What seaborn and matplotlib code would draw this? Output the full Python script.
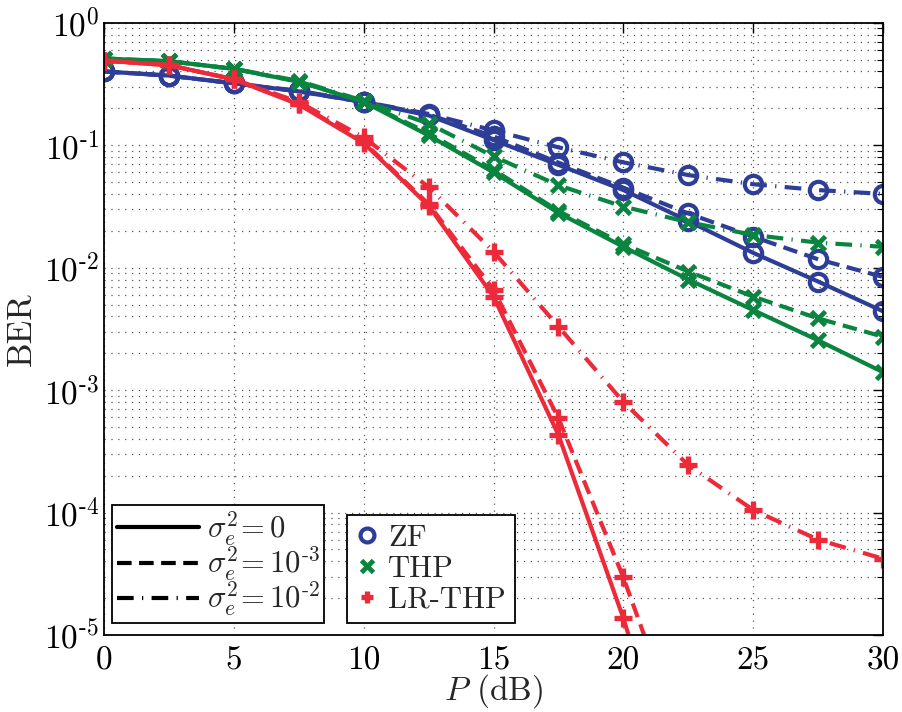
import numpy as np
import pandas as pd
import matplotlib
matplotlib.use("Agg")
import matplotlib.pyplot as plt
import seaborn as sns
from matplotlib.lines import Line2D
from matplotlib.ticker import FixedLocator, LogLocator, FuncFormatter, NullFormatter

# ---------------- data ----------------
P_dB = [0, 2.5, 5, 7.5, 10, 12.5, 15, 17.5, 20, 22.5, 25, 27.5, 30]

zf_s0 = [0.40, 0.37, 0.32, 0.275, 0.225, 0.175, 0.110, 0.069, 0.043, 0.0240, 0.0132, 0.0077, 0.0044]
zf_s3 = [0.40, 0.37, 0.32, 0.275, 0.225, 0.178, 0.118, 0.072, 0.045, 0.0277, 0.0179, 0.0117, 0.0084]
zf_s2 = [0.40, 0.37, 0.32, 0.278, 0.226, 0.180, 0.132, 0.096, 0.0724, 0.057, 0.048, 0.043, 0.040]

thp_s0 = [0.51, 0.485, 0.42, 0.33, 0.226, 0.120, 0.060, 0.028, 0.0148, 0.0080, 0.0045, 0.00255, 0.00140]
thp_s3 = [0.51, 0.485, 0.42, 0.33, 0.226, 0.125, 0.063, 0.029, 0.0156, 0.0093, 0.0058, 0.00385, 0.00273]
thp_s2 = [0.51, 0.485, 0.42, 0.335, 0.230, 0.150, 0.081, 0.047, 0.0315, 0.0235, 0.0185, 0.0160, 0.0148]

lr_s0 = [0.49, 0.45, 0.345, 0.215, 0.104, 0.032, 0.0058, 0.00043, 1.37e-5, 2.7e-7, np.nan, np.nan, np.nan]
lr_s3 = [0.49, 0.45, 0.345, 0.218, 0.106, 0.033, 0.0066, 0.00059, 2.95e-5, 1.0e-6, np.nan, np.nan, np.nan]
lr_s2 = [0.49, 0.45, 0.345, 0.225, 0.116, 0.0455, 0.0135, 0.0033, 8.0e-4, 2.44e-4, 1.05e-4, 6.0e-5, 4.2e-5]

schemes = ["ZF", "THP", "LR-THP"]
sigma_levels = ["0", "1e-3", "1e-2"]
series = {
    "ZF": [zf_s0, zf_s3, zf_s2],
    "THP": [thp_s0, thp_s3, thp_s2],
    "LR-THP": [lr_s0, lr_s3, lr_s2],
}
colors = {"ZF": "#2e3e97", "THP": "#0a8540", "LR-THP": "#ec2a3a"}
markers = {"ZF": "o", "THP": "x", "LR-THP": "+"}
legend_sigma = [r"$\sigma_e^2\!=0$", r"$\sigma_e^2\!=10^{\text{-}3}$", r"$\sigma_e^2\!=10^{\text{-}2}$"]
legend_scheme = ["ZF", "THP", "LR-THP"]

rows = []
for s in schemes:
    for lvl, vals in zip(sigma_levels, series[s]):
        for p, v in zip(P_dB, vals):
            rows.append({"scheme": s, "sigma": lvl, "P": p, "BER": v})
df = pd.DataFrame(rows).dropna()

# ---------------- style ----------------
sns.set_theme(style="white")
plt.rcParams.update({
    "font.family": "cmr10",
    "mathtext.fontset": "cm",
    "axes.formatter.use_mathtext": True,
    "axes.unicode_minus": False,
    "axes.edgecolor": "black",
    "axes.linewidth": 1.3,
})

fig, ax = plt.subplots(figsize=(9.03, 7.12), dpi=100)
fig.subplots_adjust(left=0.1152, right=0.9779, bottom=0.1081, top=0.9681)

dash_map = {"0": "", "1e-3": (3.5, 1.8), "1e-2": (4.0, 2.0, 0.3, 2.0)}
msize = {"ZF": 12.5, "THP": 10.5, "LR-THP": 12.5}
mew = {"ZF": 3.0, "THP": 3.4, "LR-THP": 3.8}

for s in schemes:
    sub = df[df["scheme"] == s]
    sns.lineplot(
        data=sub, x="P", y="BER", style="sigma", style_order=sigma_levels,
        dashes=dash_map, markers={k: markers[s] for k in sigma_levels},
        color=colors[s], linewidth=3.0, markersize=msize[s],
        markeredgewidth=mew[s], markeredgecolor=colors[s], markerfacecolor="none",
        estimator=None, sort=False, legend=False, ax=ax,
    )

ax.set_yscale("log")
ax.set_xlim(0, 30)
ax.set_ylim(1e-5, 1)
ax.xaxis.set_major_locator(FixedLocator([0, 5, 10, 15, 20, 25, 30]))
ax.xaxis.set_major_formatter(FuncFormatter(lambda v, _: "%d" % v))
ax.yaxis.set_major_locator(LogLocator(base=10, numticks=10))
ax.yaxis.set_minor_locator(LogLocator(base=10, subs=np.arange(2, 10), numticks=20))
ax.yaxis.set_minor_formatter(NullFormatter())

def yfmt(v, _):
    e = int(round(np.log10(v)))
    if e < 0:
        return r"$10^{\text{-}%d}$" % (-e)
    return r"$10^{%d}$" % e

ax.yaxis.set_major_formatter(FuncFormatter(yfmt))

ax.tick_params(axis="both", which="both", direction="in", top=True, right=True,
               labelsize=24, colors="black")
ax.tick_params(which="major", length=7, width=1.0)
ax.tick_params(which="minor", length=4, width=0.8)
ax.tick_params(axis="x", pad=8)

ax.grid(False)
ax.yaxis.grid(True, which="both", linestyle=(0, (1, 4.5)), linewidth=0.9, color="#555555")
ax.xaxis.grid(True, which="major", linestyle=(0, (1, 4.5)), linewidth=0.9, color="#555555")
for sp in ax.spines.values():
    sp.set_color("black")
    sp.set_linewidth(1.3)

ax.set_xlabel(r"$P$ (dB)", fontsize=24, labelpad=-2)
ax.set_ylabel("BER", fontsize=25, labelpad=4)

# ---------------- legends ----------------
h_sigma = [Line2D([], [], color="black", linewidth=3.0, dashes=dash_map[k]) for k in sigma_levels]
leg1 = ax.legend(h_sigma, legend_sigma, loc="lower left", bbox_to_anchor=(0.0103, 0.0196),
                 borderaxespad=0, fontsize=22, handlelength=2.7, handletextpad=0.25,
                 labelspacing=-0.12, borderpad=0.15, fancybox=False, framealpha=1,
                 edgecolor="black")
leg1.get_frame().set_linewidth(1.3)
ax.add_artist(leg1)

h_scheme = [Line2D([], [], linestyle="none", marker=markers[s], color=colors[s],
                   markersize={"ZF": 10, "THP": 8, "LR-THP": 9}[s],
                   markeredgewidth={"ZF": 3.0, "THP": 3.5, "LR-THP": 3.8}[s],
                   markerfacecolor="none") for s in schemes]
leg2 = ax.legend(h_scheme, legend_scheme, loc="lower left", bbox_to_anchor=(0.312, 0.0196),
                 borderaxespad=0, fontsize=22, handlelength=0.7, handletextpad=0.35,
                 labelspacing=0.12, borderpad=0.3, fancybox=False, framealpha=1,
                 edgecolor="black")
leg2.get_frame().set_linewidth(1.3)

fig.savefig("out.png", dpi=100)
